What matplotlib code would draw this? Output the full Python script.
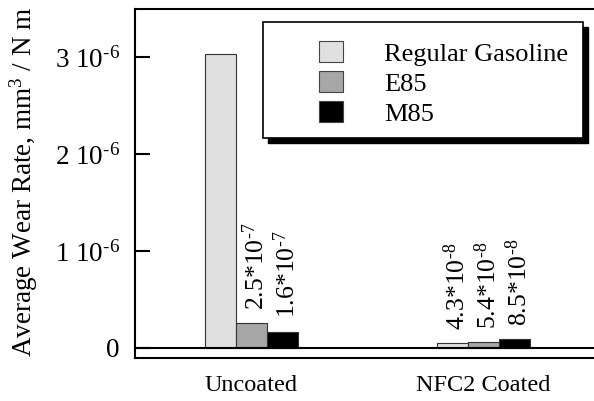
import matplotlib
matplotlib.use('Agg')
import matplotlib.pyplot as plt
from matplotlib.patches import Rectangle
import numpy as np

plt.rcParams['font.family'] = ['Liberation Serif', 'DejaVu Serif']
plt.rcParams['mathtext.fontset'] = 'custom'
plt.rcParams['mathtext.rm'] = 'Liberation Serif'
plt.rcParams['mathtext.it'] = 'Liberation Serif:italic'

# 数据
categories = ['Uncoated', 'NFC2 Coated']
fuels = ['Regular Gasoline', 'E85', 'M85']
regular = [3.03e-6, 4.3e-8]
e85 = [2.5e-7, 5.4e-8]
m85 = [1.6e-7, 8.5e-8]
value_labels = [[None, '2.5*10$^{\\text{-7}}$', '1.6*10$^{\\text{-7}}$'],
                ['4.3*10$^{\\text{-8}}$', '5.4*10$^{\\text{-8}}$', '8.5*10$^{\\text{-8}}$']]
yticks = [0, 1e-6, 2e-6, 3e-6]
ytick_labels = ['0', '1 10$^{\\text{-6}}$', '2 10$^{\\text{-6}}$', '3 10$^{\\text{-6}}$']

colors = ['#e0e0e0', '#a6a6a6', '#000000']

W, H = 594, 401
fig = plt.figure(figsize=(W / 100, H / 100), dpi=100)
# 坐标轴位置（右边超出画布）
ax = fig.add_axes([135 / W, 1 - 358.3 / H, (624 - 135) / W, (358.3 - 9) / H])

x = np.arange(len(categories))
width = 0.1336
series = [regular, e85, m85]
for i, (vals, c) in enumerate(zip(series, colors)):
    pos = x + (i - 1) * width
    ax.bar(pos, vals, width, color=c, edgecolor='#333333', linewidth=0.8,
           label=fuels[i], zorder=3)
    for j, v in enumerate(vals):
        lab = value_labels[j][i]
        if lab:
            ax.annotate(lab, (pos[j], v), xytext=(3, 10), textcoords='offset points',
                        rotation=90, ha='center', va='bottom', fontsize=18.5)

ax.axhline(0, color='black', lw=1.5, zorder=4)
ax.set_xlim(-0.502, 1.606)
ax.set_ylim(-0.11e-6, 3.5e-6)
ax.set_xticks(x)
ax.set_xticklabels(categories, fontsize=17.5)
ax.tick_params(axis='x', length=0, pad=12)
ax.set_yticks(yticks)
ax.set_yticklabels(ytick_labels, fontsize=19.5)
ax.tick_params(axis='y', direction='in', length=11, width=1.5, pad=11)
ax.spines['right'].set_visible(False)
for s in ['left', 'top', 'bottom']:
    ax.spines[s].set_linewidth(1.5)
ax.set_ylabel('Average Wear Rate, mm$^3$ / N m', fontsize=19.5)
ax.yaxis.set_label_coords(-(135 - 40) / 489, 0.505)

# 图例 + 阴影框
leg = ax.legend(loc='upper left', bbox_to_anchor=(306 / W, 1 - 28 / H),
                bbox_transform=fig.transFigure, frameon=False, fontsize=19,
                borderpad=0, handlelength=0.92, handleheight=0.85,
                handletextpad=1.55, labelspacing=0.2)
for h in leg.legend_handles:
    h.set_edgecolor('#444444')
fig.add_artist(Rectangle((268 / W, 1 - 143 / H), 320 / W, 116 / H,
                         transform=fig.transFigure, facecolor='black',
                         edgecolor='black', zorder=5))
fig.add_artist(Rectangle((263 / W, 1 - 138 / H), 320 / W, 116 / H,
                         transform=fig.transFigure, facecolor='white',
                         edgecolor='black', lw=1.2, zorder=6))
leg.set_zorder(7)
leg.remove()
fig.add_artist(leg)

fig.savefig('out.png', dpi=100)
